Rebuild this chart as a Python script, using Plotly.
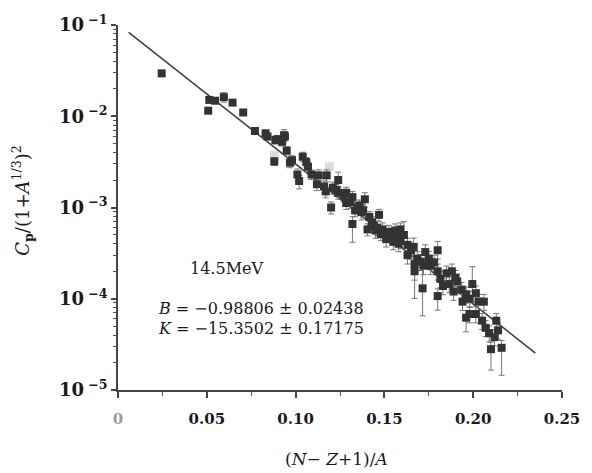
import plotly.graph_objects as go

# ---- data ----
x_vals = [0.0246, 0.0508, 0.0514, 0.0547, 0.0596, 0.0645, 0.0705, 0.0771, 0.0831, 0.0842,
          0.0886, 0.0924, 0.0935, 0.0880, 0.0950, 0.0968, 0.0980, 0.1040, 0.1060, 0.1010,
          0.1020, 0.1090, 0.1130, 0.1175, 0.1070, 0.1120, 0.1160, 0.1210, 0.1240, 0.1240,
          0.1285, 0.1320, 0.1390, 0.1200, 0.1285, 0.1335, 0.1370, 0.1320, 0.1405, 0.1415,
          0.1360, 0.1430, 0.1470, 0.1450, 0.1490, 0.1525, 0.1510, 0.1560, 0.1590, 0.1550,
          0.1590, 0.1630, 0.1665, 0.1630, 0.1685, 0.1670, 0.1705, 0.1670, 0.1715, 0.1730,
          0.1800, 0.1760, 0.1800, 0.1815, 0.1830, 0.1800, 0.1865, 0.1910, 0.1890, 0.1935,
          0.1940, 0.1960, 0.1980, 0.1995, 0.2015, 0.2030, 0.2060, 0.1960, 0.1980, 0.2015,
          0.2050, 0.2070, 0.2090, 0.2100, 0.2130, 0.2140, 0.2120, 0.2160, 0.1380, 0.1440,
          0.1480, 0.1540, 0.1570, 0.1610, 0.1650, 0.1750, 0.1780, 0.1850, 0.1880, 0.0900,
          0.0940, 0.1170, 0.1230, 0.1270, 0.1310, 0.1350, 0.1460, 0.1580, 0.1720, 0.1900]
y_vals = [2.95e-2, 1.15e-2, 1.51e-2, 1.48e-2, 1.62e-2, 1.41e-2, 1.10e-2, 6.9e-3, 6.5e-3, 6.0e-3,
          5.5e-3, 5.25e-3, 6.2e-3, 3.2e-3, 4.2e-3, 3.1e-3, 3.3e-3, 3.6e-3, 3.15e-3, 2.3e-3,
          1.95e-3, 2.3e-3, 2.25e-3, 2.25e-3, 2.8e-3, 1.8e-3, 1.7e-3, 1.65e-3, 2.0e-3, 1.45e-3,
          1.45e-3, 1.3e-3, 1.23e-3, 1.0e-3, 1.12e-3, 9.3e-4, 8.9e-4, 6.6e-4, 5.75e-4, 7.9e-4,
          1.05e-3, 6.9e-4, 8.3e-4, 5.6e-4, 5.75e-4, 5.4e-4, 4.5e-4, 5.6e-4, 5.75e-4, 4.2e-4,
          4.3e-4, 3.9e-4, 3.7e-4, 3.0e-4, 2.75e-4, 2.4e-4, 2.55e-4, 2.0e-4, 1.3e-4, 3.25e-4,
          3.4e-4, 2.3e-4, 2.0e-4, 1.65e-4, 1.38e-4, 1.07e-4, 1.45e-4, 1.55e-4, 1.2e-4, 1.26e-4,
          9.3e-5, 1.12e-4, 1.0e-4, 1.45e-4, 1.15e-4, 9.3e-5, 9.3e-5, 6.2e-5, 6.8e-5, 6.8e-5,
          5.75e-5, 4.8e-5, 4.2e-5, 2.8e-5, 5.75e-5, 4.5e-5, 3.8e-5, 2.9e-5, 9.3e-4, 6.3e-4,
          5.1e-4, 5.0e-4, 4.9e-4, 5.0e-4, 3.4e-4, 2.75e-4, 2.5e-4, 1.9e-4, 2.0e-4, 5.6e-3,
          6.0e-3, 1.5e-3, 1.55e-3, 1.35e-3, 1.15e-3, 1.0e-3, 6.0e-4, 4.0e-4, 2.3e-4, 1.7e-4]
err_up_pct = [0, 0, 0, 0, 12, 0, 0, 8, 8, 8,
              10, 10, 15, 10, 10, 12, 12, 12, 12, 15,
              15, 12, 15, 15, 12, 15, 15, 15, 22, 15,
              15, 15, 18, 15, 15, 15, 18, 20, 15, 15,
              15, 15, 15, 18, 18, 18, 18, 18, 18, 18,
              18, 18, 25, 20, 20, 62, 20, 20, 74, 20,
              25, 20, 20, 20, 20, 20, 20, 20, 20, 20,
              20, 20, 20, 55, 20, 20, 20, 20, 20, 20,
              20, 20, 20, 20, 20, 20, 20, 20, 15, 15,
              15, 18, 18, 40, 20, 20, 20, 20, 20, 10,
              10, 15, 15, 15, 15, 15, 18, 18, 20, 20]
err_dn_pct = [0, 0, 0, 0, 12, 0, 0, 8, 8, 8,
              10, 10, 15, 10, 10, 12, 12, 12, 12, 15,
              18, 12, 15, 15, 12, 15, 15, 15, 15, 15,
              15, 15, 18, 15, 15, 15, 18, 37, 15, 15,
              15, 15, 15, 18, 18, 18, 18, 18, 18, 18,
              18, 18, 20, 20, 20, 58, 20, 20, 50, 20,
              20, 20, 20, 20, 20, 30, 20, 20, 20, 20,
              20, 20, 20, 25, 20, 20, 20, 30, 20, 20,
              20, 20, 20, 41, 20, 20, 20, 50, 15, 15,
              15, 18, 18, 18, 20, 20, 20, 20, 20, 10,
              10, 15, 15, 15, 15, 15, 18, 18, 20, 20]

# faint (grey) points
x_faint = [0.1190, 0.0880]
y_faint = [2.8e-3, 3.7e-3]

# fit parameters  log10(y) = B + K x
B = -0.98806
K = -15.3502
fit_x = [0.006, 0.235]

x_ticks = [0, 0.05, 0.10, 0.15, 0.20, 0.25]
x_tick_text = ["<span style='color:#9a9a9a'>0</span>", "0.05", "0.10", "0.15", "0.20", "0.25"]
x_minor = [0.025, 0.075, 0.125, 0.175, 0.225]
y_ticks = [1e-5, 1e-4, 1e-3, 1e-2, 1e-1]
y_tick_text = ["10<sup> −5</sup>", "10<sup> −4</sup>", "10<sup> −3</sup>", "10<sup> −2</sup>", "10<sup> −1</sup>"]
y_minor = [m * 10.0 ** e for e in (-5, -4, -3, -2) for m in (2, 3, 4, 5, 6, 7, 8, 9)]

err_up = [y * p / 100 for y, p in zip(y_vals, err_up_pct)]
err_dn = [y * p / 100 for y, p in zip(y_vals, err_dn_pct)]
fit_y = [10 ** (B + K * xv) for xv in fit_x]

FONT = "DejaVu Serif"

fig = go.Figure()
fig.add_trace(go.Scatter(
    x=x_faint, y=y_faint, mode="markers",
    marker=dict(symbol="square", size=9, color="#dcdcdc"),
    showlegend=False, hoverinfo="skip"))
fig.add_trace(go.Scatter(
    x=fit_x, y=fit_y, mode="lines",
    line=dict(color="#404040", width=1.6),
    showlegend=False))
fig.add_trace(go.Scatter(
    x=x_vals, y=y_vals, mode="markers",
    marker=dict(symbol="square", size=8, color="#333333", line=dict(width=0)),
    error_y=dict(type="data", symmetric=False, array=err_up, arrayminus=err_dn,
                 color="#777777", thickness=1, width=3),
    showlegend=False))

fig.update_layout(
    width=592, height=473,
    margin=dict(l=118, r=17, t=20, b=83),
    paper_bgcolor="white", plot_bgcolor="white",
    font=dict(family=FONT, size=16, color="#1a1a1a"),
    xaxis=dict(range=[0, 0.25], tickvals=x_ticks, ticktext=x_tick_text,
               showgrid=False, zeroline=False, showline=True, linecolor="#444", linewidth=1.5,
               ticks="outside", ticklen=6, tickwidth=1.5, tickcolor="#444",
               ticklabeloverflow="allow", ticklabelstandoff=8,
               minor=dict(tickvals=x_minor, ticks="outside", ticklen=4, tickwidth=1.2,
                          tickcolor="#555", showgrid=False),
               tickfont=dict(family=FONT, size=15, color="#1a1a1a", weight="bold")),
    yaxis=dict(type="log", range=[-5, -1], tickvals=y_ticks, ticktext=y_tick_text,
               showgrid=False, zeroline=False, showline=True, linecolor="#444", linewidth=1.5,
               ticks="outside", ticklen=5, tickwidth=1.5, tickcolor="#444",
               minor=dict(tickvals=y_minor, ticks="outside", ticklen=3, tickwidth=1,
                          tickcolor="#555", showgrid=False),
               tickfont=dict(family=FONT, size=18, color="#1a1a1a", weight="bold")),
)

fig.add_annotation(xref="paper", yref="paper", x=0.158, y=0.332, xanchor="left", yanchor="middle",
                   text="14.5MeV", showarrow=False, font=dict(family=FONT, size=16))
fig.add_annotation(xref="paper", yref="paper", x=0.085, y=0.224, xanchor="left", yanchor="middle",
                   text="<i>B</i> = −0.98806 ± 0.02438", showarrow=False, font=dict(family=FONT, size=16))
fig.add_annotation(xref="paper", yref="paper", x=0.085, y=0.168, xanchor="left", yanchor="middle",
                   text="<i>K</i> = −15.3502 ± 0.17175", showarrow=False, font=dict(family=FONT, size=16))
fig.add_annotation(xref="paper", yref="paper", x=0.492, y=-0.19, xanchor="center", yanchor="middle",
                   text="(<i>N</i>− <i>Z</i>+1)/<i>A</i>", showarrow=False, font=dict(family=FONT, size=17))
fig.add_annotation(xref="paper", yref="paper", x=-0.215, y=0.52, xanchor="center", yanchor="middle",
                   text="<i>C</i><sub><b>p</b></sub>/(1+<i>A</i><sup>1/3</sup>)<sup>2</sup>", textangle=-90,
                   showarrow=False, font=dict(family=FONT, size=18))

fig.write_html("out.html", config={"displayModeBar": False},
               post_script="document.body.style.margin='0';")
